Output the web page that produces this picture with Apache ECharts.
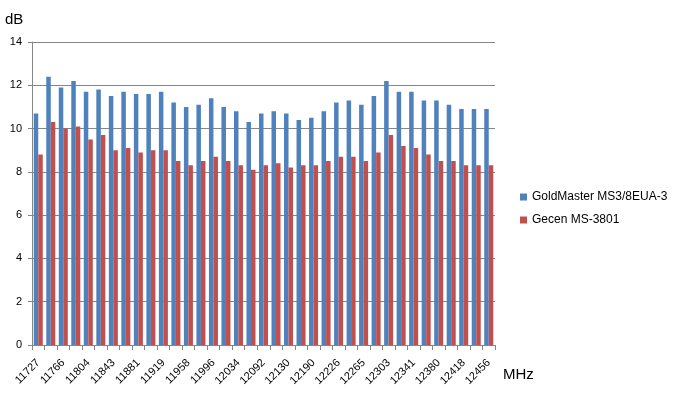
<!DOCTYPE html>
<html>
<head>
<meta charset="utf-8">
<script src="https://cdn.jsdelivr.net/npm/echarts@6/dist/echarts.min.js"></script>
<style>
  html, body { margin: 0; padding: 0; background: #fff; }
  #main { width: 677px; height: 399px; }
</style>
</head>
<body>
<div id="main"></div>
<script>
// transponder frequencies (every other one is labelled on the axis)
var freqs = ['11727', '11747', '11766', '11785', '11804', '11823', '11843', '11862', '11881', '11900',
  '11919', '11938', '11958', '11977', '11996', '12015', '12034', '12073', '12092', '12111',
  '12130', '12168', '12190', '12207', '12226', '12245', '12265', '12284', '12303', '12322',
  '12341', '12360', '12380', '12399', '12418', '12437', '12456'];

var goldMaster = [10.7, 12.4, 11.9, 12.2, 11.7, 11.8, 11.5, 11.7, 11.6, 11.6,
  11.7, 11.2, 11.0, 11.1, 11.4, 11.0, 10.8, 10.3, 10.7, 10.8,
  10.7, 10.4, 10.5, 10.8, 11.2, 11.3, 11.1, 11.5, 12.2, 11.7,
  11.7, 11.3, 11.3, 11.1, 10.9, 10.9, 10.9];

var gecen = [8.8, 10.3, 10.0, 10.1, 9.5, 9.7, 9.0, 9.1, 8.9, 9.0,
  9.0, 8.5, 8.3, 8.5, 8.7, 8.5, 8.3, 8.1, 8.3, 8.4,
  8.2, 8.3, 8.3, 8.5, 8.7, 8.7, 8.5, 8.9, 9.7, 9.2,
  9.1, 8.8, 8.5, 8.5, 8.3, 8.3, 8.3];

var yTicks = [0, 2, 4, 6, 8, 10, 12, 14];

var font = 'Liberation Sans';
var gridColor = '#868686';

var myChart = echarts.init(document.getElementById('main'));

var option = {
  animation: false,
  color: ['#4F81BD', '#C0504D'],
  textStyle: { fontFamily: font },
  grid: { left: 32, right: 182, top: 42, bottom: 54, containLabel: false },
  legend: {
    orient: 'vertical',
    left: 515,
    top: 186,
    itemWidth: 7,
    itemHeight: 7,
    itemGap: 11,
    icon: 'rect',
    textStyle: { fontFamily: font, fontSize: 12, color: '#000' },
    data: ['GoldMaster MS3/8EUA-3', 'Gecen MS-3801']
  },
  graphic: [
    { type: 'text', left: 5, top: 12, style: { text: 'dB', fontFamily: font, fontSize: 15, fill: '#000' } },
    { type: 'text', left: 503, top: 367, style: { text: 'MHz', fontFamily: font, fontSize: 15, fill: '#000' } }
  ],
  xAxis: {
    type: 'category',
    data: freqs,
    axisLine: { lineStyle: { color: gridColor } },
    axisTick: { show: true, interval: 0, length: 5, lineStyle: { color: gridColor } },
    axisLabel: { interval: 1, rotate: 45, fontSize: 11, color: '#000', margin: 16 }
  },
  yAxis: {
    type: 'value',
    min: yTicks[0],
    max: yTicks[yTicks.length - 1],
    interval: 2,
    axisLine: { show: true, lineStyle: { color: gridColor } },
    axisTick: { show: true, length: 4, lineStyle: { color: gridColor } },
    axisLabel: { fontSize: 11, color: '#000', margin: 10 },
    splitLine: { lineStyle: { color: gridColor } }
  },
  series: [
    {
      name: 'GoldMaster MS3/8EUA-3',
      type: 'bar',
      data: goldMaster,
      barGap: '0%',
      barCategoryGap: '28%'
    },
    {
      name: 'Gecen MS-3801',
      type: 'bar',
      data: gecen,
      barGap: '0%',
      barCategoryGap: '28%'
    }
  ]
};

myChart.setOption(option);
</script>
</body>
</html>
